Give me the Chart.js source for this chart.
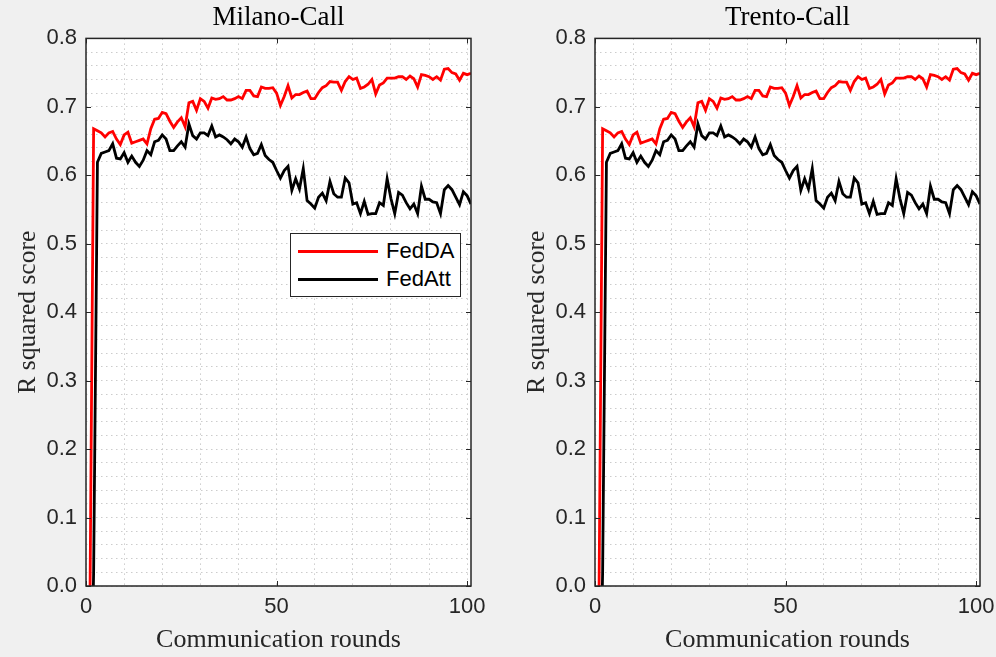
<!DOCTYPE html>
<html>
<head>
<meta charset="utf-8">
<script src="https://cdn.jsdelivr.net/npm/chart.js@4.4.1/dist/chart.umd.min.js"></script>
<style>
body{margin:0;background:#f0f0f0;width:996px;height:657px;overflow:hidden;position:relative}
.pane{position:absolute;top:0;width:487px;height:657px}
#legend{position:absolute;left:290px;top:233px;width:169px;height:62px;border:1px solid #262626;background:#fff;
  font-family:"Liberation Sans",Arial,sans-serif;font-size:22px;color:#000}
#legend .ln{position:absolute;left:7px;width:80px;height:3px}
#legend .tx{position:absolute;left:95px;line-height:24px;white-space:nowrap}
</style>
</head>
<body>
<div class="pane" style="left:0"><canvas id="milano" width="487" height="657"></canvas></div>
<div class="pane" style="left:509px"><canvas id="trento" width="487" height="657"></canvas></div>
<div id="legend"></div>
<script>
// communication rounds
let rounds=[1,2,3,4,5,6,7,8,9,10,11,12,13,14,15,16,17,18,19,20,
  21,22,23,24,25,26,27,28,29,30,31,32,33,34,35,36,37,38,39,40,
  41,42,43,44,45,46,47,48,49,50,51,52,53,54,55,56,57,58,59,60,
  61,62,63,64,65,66,67,68,69,70,71,72,73,74,75,76,77,78,79,80,
  81,82,83,84,85,86,87,88,89,90,91,92,93,94,95,96,97,98,99,100,101]

let fedDA=[-0.05,0.668,0.665,0.662,0.656,0.662,0.664,0.653,0.645,0.659,
  0.663,0.647,0.649,0.651,0.653,0.646,0.668,0.682,0.683,0.692,
  0.690,0.679,0.670,0.678,0.684,0.671,0.706,0.708,0.695,0.712,
  0.708,0.698,0.713,0.711,0.712,0.715,0.710,0.710,0.712,0.715,
  0.712,0.724,0.724,0.716,0.715,0.729,0.727,0.727,0.728,0.720,
  0.702,0.715,0.731,0.713,0.718,0.718,0.721,0.723,0.712,0.712,
  0.721,0.728,0.731,0.737,0.736,0.736,0.724,0.737,0.744,0.740,
  0.742,0.727,0.729,0.733,0.740,0.719,0.732,0.735,0.742,0.742,
  0.742,0.744,0.744,0.740,0.745,0.741,0.729,0.747,0.746,0.744,
  0.740,0.744,0.739,0.755,0.756,0.750,0.748,0.739,0.749,0.747,0.749]

let fedAtt=[-0.3,0.02,0.619,0.632,0.634,0.636,0.646,0.625,0.624,0.633,
  0.619,0.628,0.619,0.613,0.622,0.636,0.630,0.649,0.651,0.659,
  0.653,0.636,0.636,0.643,0.649,0.641,0.675,0.658,0.653,0.662,
  0.662,0.658,0.672,0.656,0.659,0.656,0.652,0.646,0.653,0.649,
  0.641,0.656,0.639,0.630,0.632,0.645,0.629,0.623,0.619,0.607,
  0.596,0.607,0.613,0.578,0.595,0.580,0.610,0.563,0.558,0.552,
  0.568,0.574,0.563,0.591,0.573,0.568,0.568,0.596,0.589,0.558,
  0.560,0.544,0.562,0.543,0.544,0.544,0.560,0.556,0.595,0.566,
  0.544,0.575,0.571,0.560,0.551,0.558,0.544,0.584,0.565,0.565,
  0.561,0.560,0.544,0.579,0.585,0.579,0.568,0.557,0.576,0.570,0.558]

let seriesNames=["FedDA","FedAtt"]
let seriesColors=["#ff0000","#000000"]
let xGrid=[0,10,20,30,40,50,60,70,80,90,100]
let xMajor=[0,50,100]
let yMajor=[0,0.1,0.2,0.3,0.4,0.5,0.6,0.7,0.8]

let sans='"Liberation Sans", Arial, sans-serif'
let serif='"Liberation Serif", "Times New Roman", serif'
let axisColor="#262626"

// white plot area + matlab style box with inward ticks
let matlabBox={
    id:'matlabBox',
    beforeDraw(chart){
        let a=chart.chartArea, ctx=chart.ctx
        ctx.save()
        ctx.fillStyle="#ffffff"
        ctx.fillRect(a.left,a.top,a.right-a.left,a.bottom-a.top)
        ctx.restore()
    },
    afterDatasetsDraw(chart){
        let a=chart.chartArea, ctx=chart.ctx
        let xs=chart.scales.x, ys=chart.scales.y
        ctx.save()
        ctx.strokeStyle=axisColor
        ctx.lineWidth=1
        ctx.beginPath()
        yMajor.forEach(v=>{
            let p=Math.round(ys.getPixelForValue(v))+0.5
            ctx.moveTo(a.left,p); ctx.lineTo(a.left+5,p)
            ctx.moveTo(a.right,p); ctx.lineTo(a.right-5,p)
        })
        xMajor.forEach(v=>{
            let p=Math.round(xs.getPixelForValue(v))+0.5
            ctx.moveTo(p,a.bottom); ctx.lineTo(p,a.bottom-5)
            ctx.moveTo(p,a.top); ctx.lineTo(p,a.top+5)
        })
        ctx.stroke()
        ctx.lineWidth=1.5
        ctx.strokeRect(a.left,a.top,a.right-a.left,a.bottom-a.top)
        ctx.restore()
    }
}

function makeChart(id,title){
    return new Chart(document.getElementById(id),{
        type:'line',
        data:{
            datasets:[fedDA,fedAtt].map((vals,i)=>({
                label:seriesNames[i],
                data:rounds.map((r,k)=>({x:r,y:vals[k]})),
                borderColor:seriesColors[i],
                borderWidth:2.8,
                pointRadius:0,
                tension:0,
                clip:0
            }))
        },
        options:{
            responsive:false,
            animation:false,
            layout:{padding:{left:0,right:16,top:0,bottom:0}},
            plugins:{
                legend:{display:false},
                tooltip:{enabled:false},
                title:{
                    display:true,
                    text:title,
                    fullSize:false,
                    color:"#000",
                    font:{family:serif,size:27,weight:'normal',lineHeight:1.2},
                    padding:{top:2,bottom:4}
                }
            },
            scales:{
                x:{
                    type:'linear',
                    min:0,max:101,
                    afterFit(s){s.height=71;s.paddingLeft=0;s.paddingRight=0},
                    afterBuildTicks(s){s.ticks=xGrid.map(v=>({value:v}))},
                    grid:{color:"#cccccc",lineWidth:1,drawTicks:false},
                    border:{display:false,dash:[1.5,3.5]},
                    ticks:{
                        autoSkip:false,maxRotation:0,padding:8,
                        color:axisColor,font:{family:sans,size:22},
                        callback:v=>xMajor.includes(v)?String(v):''
                    },
                    title:{display:true,text:'Communication rounds',color:axisColor,
                        font:{family:serif,size:26,lineHeight:1.2},padding:{top:0,bottom:1}}
                },
                y:{
                    min:0,max:0.8,
                    afterFit(s){s.width=86;s.paddingTop=0;s.paddingBottom=0},
                    grid:{color:"#cccccc",lineWidth:1,drawTicks:false},
                    border:{display:false,dash:[1.5,3.5]},
                    ticks:{
                        stepSize:0.02,autoSkip:false,maxTicksLimit:100,padding:9,
                        color:axisColor,font:{family:sans,size:22},
                        callback:v=>Math.abs(v*10-Math.round(v*10))<1e-6?v.toFixed(1):''
                    },
                    title:{display:true,text:'R squared score',color:axisColor,
                        font:{family:serif,size:25.5,lineHeight:1.2},padding:{top:13,bottom:0}}
                }
            }
        },
        plugins:[matlabBox]
    })
}

makeChart('milano','Milano-Call')
makeChart('trento','Trento-Call')

// legend box (left panel only)
let lg=document.getElementById('legend')
seriesNames.forEach((n,i)=>{
    let ln=document.createElement('div')
    ln.className='ln'
    ln.style.top=(16+i*28)+'px'
    ln.style.background=seriesColors[i]
    lg.appendChild(ln)
    let tx=document.createElement('div')
    tx.className='tx'
    tx.style.top=(5+i*28)+'px'
    tx.textContent=n
    lg.appendChild(tx)
})
</script>
</body>
</html>
